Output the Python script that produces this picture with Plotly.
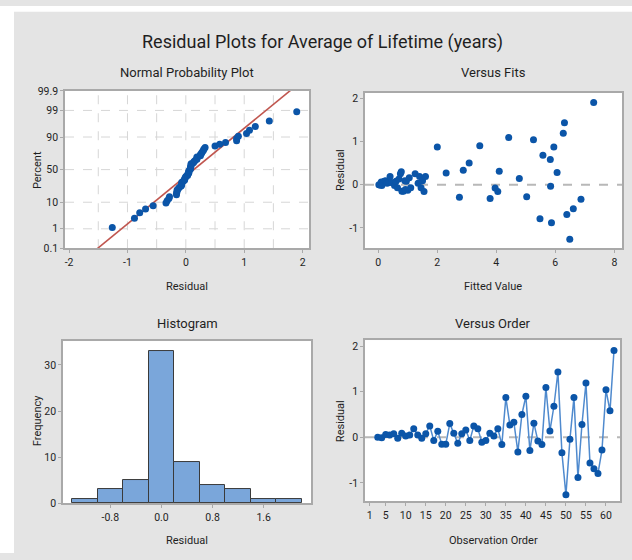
import plotly.graph_objects as go
from statistics import NormalDist
import numpy as np

# ---------------- data ----------------
order = list(range(3, 63))
residuals = [0.00, -0.01, 0.06, 0.05, 0.08, -0.02, 0.09, 0.03, 0.05, 0.19,
             0.05, -0.02, 0.08, 0.25, -0.07, 0.13, -0.15, -0.15, 0.30, 0.09,
             -0.13, 0.08, 0.16, -0.07, 0.25, 0.19, -0.11, -0.07, 0.09, 0.03,
             0.19, -0.16, 0.87, 0.27, 0.33, -0.32, 0.50, 0.90, -0.29, 0.31,
             -0.08, -0.16, 1.09, 0.14, 0.68, 1.43, -0.34, -1.26, -0.04, 0.87,
             -0.88, 0.28, 1.19, -0.56, -0.69, -0.79, -0.28, 1.04, 0.58, 1.90]
fitted = [0.02, 0.05, 0.10, 0.15, 0.20, 0.12, 0.25, 0.30, 0.35, 0.40,
          0.45, 0.55, 0.60, 0.75, 0.65, 0.70, 0.80, 0.85, 0.78, 0.90,
          1.00, 0.95, 1.05, 1.10, 1.25, 1.40, 0.92, 1.45, 1.50, 1.35,
          1.60, 1.55, 2.00, 2.30, 2.88, 3.79, 3.08, 3.44, 2.75, 4.10,
          3.96, 4.05, 4.42, 4.78, 5.58, 6.31, 6.87, 6.49, 5.84, 5.95,
          5.87, 6.06, 6.27, 6.61, 6.39, 5.48, 5.03, 5.26, 5.83, 7.30]
prob_ticks = [0.1, 1, 10, 50, 90, 99, 99.9]
prob_tick_labels = ["0.1", "1", "10", "50", "90", "99", "99.9"]
hist_ticks = [-0.8, 0.0, 0.8, 1.6]
order_ticks = [1, 5, 10, 15, 20, 25, 30, 35, 40, 45, 50, 55, 60]

# ---------------- derived ----------------
nd = NormalDist()
n = len(residuals)
sorted_res = sorted(residuals)
pct = [(i - 0.3) / (n + 0.4) for i in range(1, n + 1)]
zq = [nd.inv_cdf(p) for p in pct]
mu = float(np.mean(residuals))
sd = float(np.std(residuals, ddof=1))
z_line = [nd.inv_cdf(0.0005), nd.inv_cdf(0.9995)]
x_line = [mu + sd * z for z in z_line]

W, H = 632, 560
def px(x):
    return x / W
def py(y):
    return 1 - y / H

BLUE = "#0b55a8"
FONT = "Roboto, Lato, sans-serif"
TXT = "#1f1f1f"

fig = go.Figure()

# Normal probability plot
fig.add_trace(go.Scatter(x=x_line, y=z_line, mode="lines",
                         line=dict(color="#c0564f", width=1.6),
                         xaxis="x", yaxis="y", showlegend=False, hoverinfo="skip"))
fig.add_trace(go.Scatter(x=sorted_res, y=zq, mode="markers",
                         marker=dict(color=BLUE, size=7),
                         xaxis="x", yaxis="y", showlegend=False))
# Versus fits
fig.add_trace(go.Scatter(x=fitted, y=residuals, mode="markers",
                         marker=dict(color=BLUE, size=7),
                         xaxis="x2", yaxis="y2", showlegend=False))
# Histogram
fig.add_trace(go.Histogram(x=residuals, xbins=dict(start=-1.4, end=2.2, size=0.4),
                           marker=dict(color="#7aa6da", line=dict(color="#3a3a3a", width=1)),
                           xaxis="x3", yaxis="y3", showlegend=False))
# Versus order
fig.add_trace(go.Scatter(x=order, y=residuals, mode="lines+markers",
                         line=dict(color="#4f8ace", width=1.5),
                         marker=dict(color=BLUE, size=7),
                         xaxis="x4", yaxis="y4", showlegend=False))

tickfont = dict(family=FONT, size=10.5, color=TXT)
common = dict(showline=True, linecolor="#a9a9a9", linewidth=1.5, mirror=True,
              ticks="outside", ticklen=3, tickcolor="#a9a9a9", tickfont=tickfont,
              zeroline=False, showgrid=False)

fig.update_layout(
    width=W, height=H,
    margin=dict(l=0, r=0, t=0, b=0),
    paper_bgcolor="#e4e4e4", plot_bgcolor="white",
    font=dict(family=FONT, color=TXT),
    bargap=0,
    xaxis=dict(domain=[px(65), px(309)], range=[-2.07, 2.11], anchor="y",
               tickvals=[-2, -1, 0, 1, 2], ticktext=["-2", "-1", "0", "1", "2"], **common),
    yaxis=dict(domain=[py(248), py(87)], range=[nd.inv_cdf(0.001), nd.inv_cdf(0.999)],
               anchor="x",
               tickvals=[nd.inv_cdf(p / 100) for p in prob_ticks], ticktext=prob_tick_labels,
               **common),
    xaxis2=dict(domain=[px(365), px(622)], range=[-0.45, 8.26], anchor="y2",
                tickvals=[0, 2, 4, 6, 8], **common),
    yaxis2=dict(domain=[py(248), py(89)], range=[-1.47, 2.12], anchor="x2",
                tickvals=[-1, 0, 1, 2], ticktext=["-1", "0", "1", "2"], **common),
    xaxis3=dict(domain=[px(63), px(311)], range=[-1.54, 2.34], anchor="y3",
                tickvals=hist_ticks, ticktext=[f"{v:.1f}" for v in hist_ticks], **common),
    yaxis3=dict(domain=[py(509), py(343)], range=[0, 35.2], anchor="x3",
                tickvals=[0, 10, 20, 30], **common),
    xaxis4=dict(domain=[px(365), px(620)], range=[-0.17, 63.5], anchor="y4",
                tickvals=order_ticks, **common),
    yaxis4=dict(domain=[py(507), py(342)], range=[-1.40, 2.13], anchor="x4",
                tickvals=[-1, 0, 1, 2], ticktext=["-1", "0", "1", "2"], **common),
)

# probability plot grid (dashed)
shapes = []
for p in [1, 10, 50, 90, 99]:
    z = nd.inv_cdf(p / 100)
    shapes.append(dict(type="line", xref="x domain", yref="y", x0=0, x1=1, y0=z, y1=z,
                       line=dict(color="#d6d6d6", width=1, dash="dash"), layer="below"))
for xv in [-1.5, -1, -0.5, 0, 0.5, 1, 1.5]:
    shapes.append(dict(type="line", xref="x", yref="y domain", x0=xv, x1=xv, y0=0, y1=1,
                       line=dict(color="#d6d6d6", width=1, dash="dash"), layer="below"))
# zero reference lines
shapes.append(dict(type="line", xref="x2 domain", yref="y2", x0=0, x1=1, y0=0, y1=0,
                   line=dict(color="#b8b8b8", width=2, dash="dash"), layer="below"))
shapes.append(dict(type="line", xref="x4 domain", yref="y4", x0=0, x1=1, y0=0, y1=0,
                   line=dict(color="#b8b8b8", width=2, dash="dash"), layer="below"))
# white page strips
shapes.append(dict(type="rect", xref="paper", yref="paper", x0=0, x1=px(14), y0=0, y1=1,
                   fillcolor="white", line=dict(width=0), layer="below"))
shapes.append(dict(type="rect", xref="paper", yref="paper", x0=0, x1=1, y0=py(6), y1=1,
                   fillcolor="white", line=dict(width=0), layer="below"))
fig.update_layout(shapes=shapes)

ann = []
def label(text, x, y, size, angle=0):
    ann.append(dict(text=text, x=px(x), y=py(y), xref="paper", yref="paper",
                    showarrow=False, textangle=angle, xanchor="center", yanchor="middle",
                    font=dict(family=FONT, size=size, color=TXT)))

label("Residual Plots for Average of Lifetime (years)", 323, 37, 18)
label("Normal Probability Plot", 187, 68, 13)
label("Versus Fits", 493, 68, 13)
label("Histogram", 187, 325, 13)
label("Versus Order", 493, 325, 13)
label("Residual", 187, 287, 11)
label("Fitted Value", 493, 287, 11)
label("Residual", 187, 547, 11)
label("Observation Order", 493, 547, 11)
label("Percent", 37, 168, 11, -90)
label("Residual", 340, 168, 11, -90)
label("Frequency", 37, 425, 11, -90)
label("Residual", 340, 425, 11, -90)
fig.update_layout(annotations=ann)

fig.write_html("out.html", config={"displayModeBar": False})

# remove the default page margin so the figure sits at the window origin
with open("out.html", "r", encoding="utf-8") as f:
    html = f.read()
html = html.replace("<head>", "<head><style>html,body{margin:0;padding:0;overflow:hidden;}</style>", 1)
with open("out.html", "w", encoding="utf-8") as f:
    f.write(html)
